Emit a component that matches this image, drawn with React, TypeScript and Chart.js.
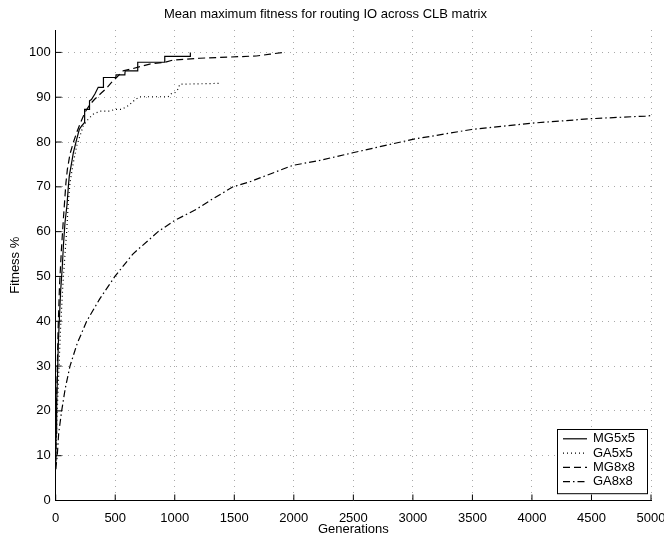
import React, { useEffect, useRef } from "react";
import { Chart, registerables } from "chart.js";

Chart.register(...registerables);

const FONT = "'Liberation Sans', Arial, Helvetica, sans-serif";

const titleText = "Mean maximum fitness for routing IO across CLB matrix";
const xTitle = "Generations";
const yTitle = "Fitness %";
const seriesNames = ["MG5x5", "GA5x5", "MG8x8", "GA8x8"];

const mg5Gen = [0, 3, 8, 15, 22, 30, 42, 55, 65, 78, 95, 106, 114, 134, 148, 176, 198, 218, 240, 243, 282, 284, 300, 329, 357, 399, 401, 505, 507, 581, 583, 687, 689, 914, 916, 1129, 1131];
const mg5Fit = [7, 15, 22, 28, 35, 40, 47, 52, 57, 62, 66, 70, 72.4, 75.4, 77.6, 80.6, 82.8, 83.6, 84.3, 87.3, 87.3, 89.2, 89.5, 90.7, 92.2, 92.2, 94.4, 94.4, 95.0, 95.0, 95.9, 95.9, 97.8, 97.8, 99.1, 99.1, 100];

const ga5Gen = [0, 10, 25, 40, 60, 78, 92, 106, 120, 148, 176, 204, 231, 273, 315, 371, 455, 497, 553, 609, 665, 707, 944, 972, 1000, 1028, 1042, 1391];
const ga5Fit = [8, 18, 28, 38, 48, 55, 60, 66.5, 70.9, 75.4, 79.1, 81.4, 83.6, 85.1, 86.2, 86.9, 86.9, 87.3, 87.3, 88.1, 89.4, 90.1, 90.1, 90.8, 91.0, 91.8, 92.9, 93.1];

const mg8Gen = [0, 5, 12, 20, 32, 48, 65, 86, 98, 120, 148, 176, 204, 245, 288, 329, 385, 427, 469, 511, 567, 650, 790, 916, 986, 1210, 1685, 1800, 1908];
const mg8Fit = [9, 18, 28, 38, 48, 56, 63, 70.9, 73.9, 77.3, 79.9, 82.1, 84.0, 86.6, 88.4, 89.6, 91.0, 92.0, 93.3, 94.4, 95.9, 96.4, 97.4, 97.8, 98.3, 98.7, 99.2, 99.6, 100];

const ga8Gen = [0, 13, 25, 50, 80, 120, 180, 260, 370, 497, 648, 860, 1000, 1182, 1300, 1489, 1628, 1992, 2200, 2495, 2998, 3493, 3993, 4493, 4954, 5000];
const ga8Fit = [7, 10, 15, 20, 25, 30, 35, 40, 45, 50, 55, 60, 62.5, 65, 67, 70, 71.1, 74.8, 75.8, 77.6, 80.6, 82.8, 84.2, 85.2, 85.8, 85.9];

const xTickStep = 500;
const yTickStep = 10;

const toPoints = (gs: number[], fs: number[]) => gs.map((g, i) => ({ x: g, y: fs[i] }));

const dashes: number[][] = [[], [1, 3], [7, 4], [7, 3, 1.5, 3]];

const inwardTicks = {
  id: "inwardTicks",
  afterDatasetsDraw(chart: any) {
    const { ctx, chartArea, scales } = chart;
    ctx.save();
    ctx.strokeStyle = "#000";
    ctx.lineWidth = 1;
    ctx.beginPath();
    scales.x.ticks.forEach((t: any) => {
      const px = scales.x.getPixelForValue(t.value);
      ctx.moveTo(px, chartArea.bottom);
      ctx.lineTo(px, chartArea.bottom - 6);
    });
    scales.y.ticks.forEach((t: any) => {
      const py = scales.y.getPixelForValue(t.value);
      ctx.moveTo(chartArea.left, py);
      ctx.lineTo(chartArea.left + 6, py);
    });
    ctx.stroke();
    ctx.restore();
  },
};

const boxLegend = {
  id: "boxLegend",
  afterDraw(chart: any) {
    const { ctx, chartArea } = chart;
    const ds = chart.data.datasets;
    const w = 90;
    const rowH = 14.3;
    const h = ds.length * rowH + 7;
    const right = chartArea.right - 4;
    const bottom = chartArea.bottom - 7.5;
    const left = right - w;
    const top = bottom - h;
    ctx.save();
    ctx.fillStyle = "#fff";
    ctx.fillRect(left, top, w, h);
    ctx.strokeStyle = "#000";
    ctx.lineWidth = 1;
    ctx.strokeRect(Math.round(left) + 0.5, Math.round(top) + 0.5, w, h);
    ctx.font = `13px ${FONT}`;
    ctx.textBaseline = "middle";
    ctx.fillStyle = "#000";
    ds.forEach((d: any, i: number) => {
      const y = top + 10 + i * rowH;
      ctx.beginPath();
      ctx.setLineDash(d.borderDash || []);
      ctx.lineWidth = d.borderWidth;
      ctx.strokeStyle = d.borderColor;
      ctx.moveTo(left + 6, y);
      ctx.lineTo(left + 30, y);
      ctx.stroke();
      ctx.setLineDash([]);
      ctx.fillText(d.label, left + 36, y);
    });
    ctx.restore();
  },
};

export default function App() {
  const ref = useRef<HTMLCanvasElement>(null);
  useEffect(() => {
    if (!ref.current) return;
    const gens = [mg5Gen, ga5Gen, mg8Gen, ga8Gen];
    const fits = [mg5Fit, ga5Fit, mg8Fit, ga8Fit];
    const chart = new Chart(ref.current, {
      type: "line",
      data: {
        datasets: seriesNames.map((name, i) => ({
          label: name,
          data: toPoints(gens[i], fits[i]),
          borderColor: "#000",
          borderWidth: 1.2,
          borderDash: dashes[i],
          pointRadius: 0,
          fill: false,
          tension: 0,
        })),
      },
      options: {
        animation: false,
        responsive: false,
        devicePixelRatio: 1,
        layout: { padding: { left: 0, right: 13, top: 0, bottom: 0 } },
        plugins: {
          legend: { display: false },
          tooltip: { enabled: false },
          title: {
            display: true,
            text: titleText,
            color: "#000",
            font: { family: FONT, size: 13, weight: "normal" },
            padding: { top: 6.7, bottom: 7.7 },
          },
        },
        scales: {
          x: {
            type: "linear",
            min: 0,
            max: 5000,
            ticks: {
              stepSize: xTickStep,
              color: "#000",
              font: { family: FONT, size: 13 },
              padding: 10,
              maxRotation: 0,
              autoSkip: false,
              includeBounds: false,
              callback: (v: any) => String(v),
            },
            grid: { color: "#a8a8a8", lineWidth: 1, drawTicks: false },
            border: { display: true, color: "#000", width: 1, dash: [1, 5] },
            title: {
              display: true,
              text: xTitle,
              color: "#000",
              font: { family: FONT, size: 13 },
              padding: { top: 0, bottom: -2 },
            },
            afterFit: (s: any) => {
              s.height = 34.5;
              s.paddingLeft = 0;
              s.paddingRight = 0;
            },
          },
          y: {
            type: "linear",
            min: 0,
            max: 105,
            ticks: {
              stepSize: yTickStep,
              color: "#000",
              font: { family: FONT, size: 13 },
              padding: 5,
              includeBounds: false,
              callback: (v: any) => String(v),
            },
            grid: { color: "#a8a8a8", lineWidth: 1, drawTicks: false },
            border: { display: true, color: "#000", width: 1, dash: [1, 5] },
            title: {
              display: true,
              text: yTitle,
              color: "#000",
              font: { family: FONT, size: 13 },
              padding: { top: 8, bottom: 0 },
            },
            afterFit: (s: any) => {
              s.width = 55.7;
              s.paddingTop = 0;
              s.paddingBottom = 0;
            },
          },
        },
      },
      plugins: [inwardTicks, boxLegend],
    });
    return () => chart.destroy();
  }, []);
  return (
    <div style={{ position: "absolute", left: 0, top: 0, width: 664, height: 535, background: "#fff" }}>
      <canvas ref={ref} width={664} height={535} />
    </div>
  );
}
